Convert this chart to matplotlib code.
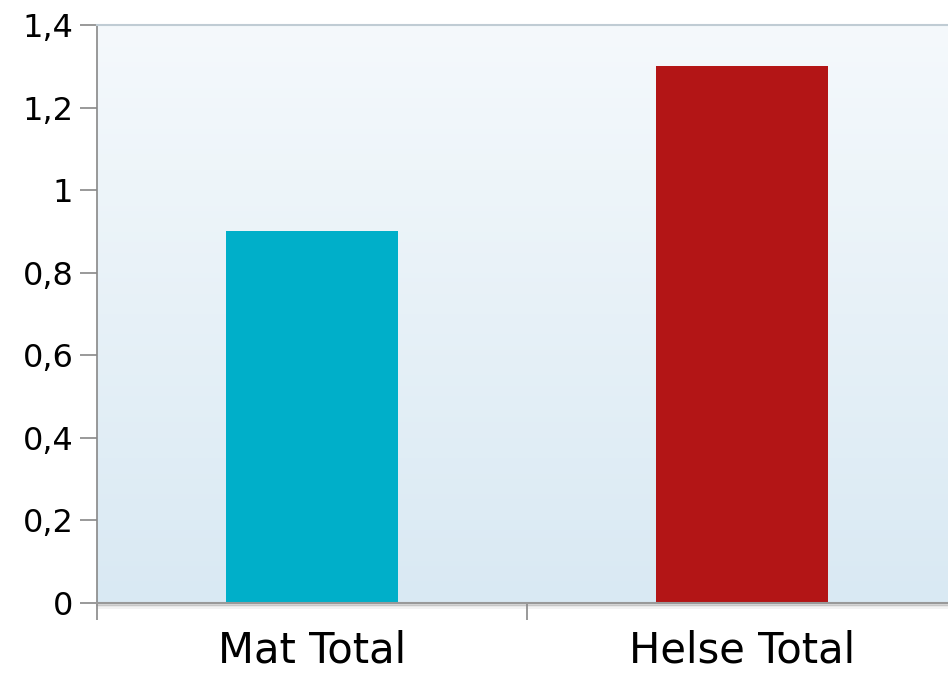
import numpy as np
import matplotlib.pyplot as plt
from matplotlib.colors import LinearSegmentedColormap

# data
categories = ['Mat Total', 'Helse Total']
values = [0.9, 1.3]
bar_colors = ['#00afc9', '#b31516']
y_ticks = [0, 0.2, 0.4, 0.6, 0.8, 1.0, 1.2, 1.4]
y_labels = ['0', '0,2', '0,4', '0,6', '0,8', '1', '1,2', '1,4']

plt.rcParams['font.family'] = ['DejaVu Sans']

fig = plt.figure(figsize=(9.48, 6.79), dpi=100)
# plot area runs past the right edge of the image
ax = fig.add_axes([97 / 948, 1 - 603 / 679, 860 / 948, (603 - 25) / 679])

# gradient background
cmap = LinearSegmentedColormap.from_list('bg', ['#d9e9f3', '#f5f9fc'])
grad = np.linspace(0, 1, 256).reshape(-1, 1)
ax.imshow(grad, cmap=cmap, aspect='auto', origin='lower',
          extent=[0, 1, 0, 1], transform=ax.transAxes, zorder=0)

x = np.arange(len(categories))
ax.bar(x, values, width=0.4, color=bar_colors, zorder=2)

ax.set_xlim(-0.5, 1.5)
ax.set_ylim(0, 1.4)

ax.set_yticks(y_ticks)
ax.set_yticklabels(y_labels, fontsize=23)
ax.set_xticks(x)
ax.set_xticklabels(categories, fontsize=30)
ax.set_xticks([-0.5, 0.5, 1.5], minor=True)

ax.tick_params(axis='x', which='major', length=0, pad=19)
ax.tick_params(axis='x', which='minor', length=12, color='#888888', width=1.2)
ax.tick_params(axis='y', length=12, color='#888888', width=1.2, pad=5)

ax.spines['right'].set_visible(False)
ax.spines['left'].set_color('#888888')
ax.spines['left'].set_linewidth(1.2)
ax.spines['top'].set_color('#c0ccd4')
ax.spines['top'].set_linewidth(1.5)
ax.spines['bottom'].set_color('#999999')
ax.spines['bottom'].set_linewidth(1.5)

# soft shadow under the x axis
for i, a in enumerate([0.35, 0.2, 0.1]):
    ax.axhline(-0.004 * (i + 1), color='#777777', alpha=a, lw=1.2, clip_on=False, zorder=1)

fig.savefig('out.png', dpi=100)
